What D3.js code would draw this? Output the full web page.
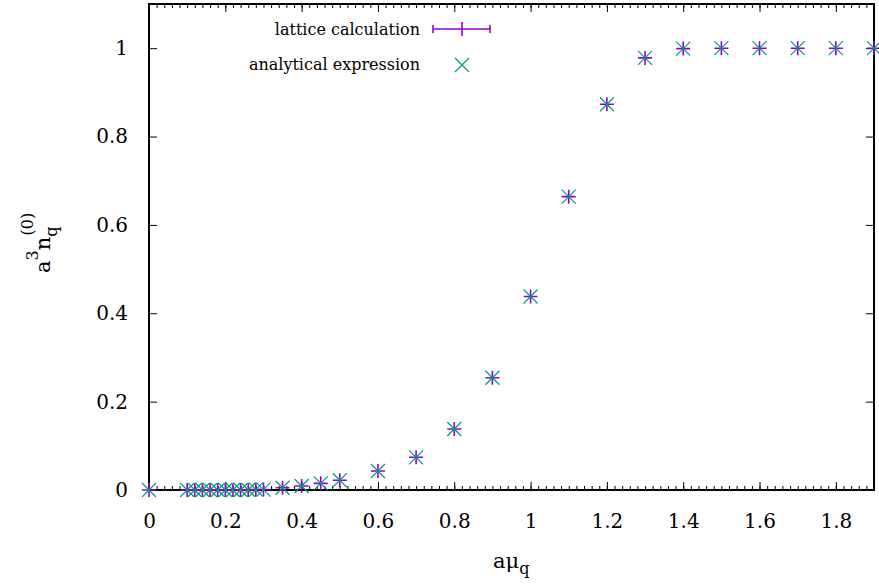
<!DOCTYPE html>
<html>
<head>
<meta charset="utf-8">
<script src="https://cdn.jsdelivr.net/npm/d3@7"></script>
<style>
  body { margin: 0; background: #fff; }
  svg text { fill: #000; }
</style>
</head>
<body>
<div id="chart-container"></div>
<script>
// data
const muValues = [0, 0.10, 0.12, 0.14, 0.16, 0.18, 0.20, 0.22, 0.24, 0.26, 0.28, 0.30,
  0.35, 0.40, 0.45, 0.50, 0.60, 0.70, 0.80, 0.90, 1.00, 1.10, 1.20, 1.30, 1.40, 1.50, 1.60, 1.70, 1.80, 1.90];
const latticeValues = [0, 0, 0, 0, 0, 0, 0, 0, 0, 0, 0.001, 0.001,
  0.005, 0.009, 0.015, 0.022, 0.043, 0.074, 0.138, 0.254, 0.438, 0.664, 0.873, 0.978, 0.999, 1, 1, 1, 1, 1];
const analyticValues = [0, 0, 0, 0, 0, 0, 0, 0, 0, 0, 0.001, 0.001,
  0.005, 0.009, 0.015, 0.022, 0.043, 0.074, 0.138, 0.254, 0.438, 0.664, 0.873, 0.978, 0.999, 1, 1, 1, 1, 1];
const xTicks = [0, 0.2, 0.4, 0.6, 0.8, 1, 1.2, 1.4, 1.6, 1.8];
const yTicks = [0, 0.2, 0.4, 0.6, 0.8, 1];
const seriesNames = ["lattice calculation", "analytical expression"];

const W = 879, H = 585;
const margin = { top: 4, right: 5, bottom: 95, left: 149 };
const width = W - margin.left - margin.right;
const height = H - margin.top - margin.bottom;

const purple = "#9400d3";
const green = "#009e73";
const serif = "'DejaVu Serif', serif";

const svg = d3.select("#chart-container").append("svg")
  .attr("width", W)
  .attr("height", H);

const g = svg.append("g")
  .attr("transform", `translate(${margin.left}, ${margin.top})`);

const x = d3.scaleLinear().domain([0, 1.9]).range([0, width]);
const y = d3.scaleLinear().domain([0, 1.1]).range([height, 0]);

// minor ticks every 0.02 on x
const minorX = d3.range(0, 96).map(i => +(i * 0.02).toFixed(2)).filter(v => v <= 1.9);

const tickText = a => a.attr("font-family", serif).selectAll("text")
  .style("font-family", serif)
  .style("font-size", "20px")
  .style("fill", "#000");

// bottom axis
g.append("g")
  .attr("transform", `translate(0, ${height})`)
  .call(d3.axisBottom(x).tickValues(xTicks).tickFormat(d3.format("")).tickSize(-8).tickPadding(24))
  .call(a => a.select(".domain").remove())
  .call(tickText);
g.append("g")
  .attr("transform", `translate(0, ${height})`)
  .call(d3.axisBottom(x).tickValues(minorX).tickFormat("").tickSize(-4))
  .call(a => a.select(".domain").remove());

// top axis (mirror)
g.append("g")
  .call(d3.axisTop(x).tickValues(xTicks).tickFormat("").tickSize(-8))
  .call(a => a.select(".domain").remove());
g.append("g")
  .call(d3.axisTop(x).tickValues(minorX).tickFormat("").tickSize(-4))
  .call(a => a.select(".domain").remove());

// left axis
g.append("g")
  .call(d3.axisLeft(y).tickValues(yTicks).tickFormat(d3.format("")).tickSize(-8).tickPadding(21))
  .call(a => a.select(".domain").remove())
  .call(tickText);

// right axis (mirror)
g.append("g")
  .attr("transform", `translate(${width}, 0)`)
  .call(d3.axisRight(y).tickValues(yTicks).tickFormat("").tickSize(-8))
  .call(a => a.select(".domain").remove());

g.selectAll(".tick line").attr("stroke", "#000").attr("stroke-width", 1);

// border
g.append("rect")
  .attr("width", width)
  .attr("height", height)
  .attr("fill", "none")
  .attr("stroke", "#000")
  .attr("stroke-width", 2);

// data points
const pts = muValues.map((m, i) => ({ x: m, lat: latticeValues[i], ana: analyticValues[i] }));
const s = 7;

const plot = g.append("g");
// lattice: plus marker
plot.selectAll(".lat")
  .data(pts)
  .join("path")
    .attr("class", "lat")
    .attr("d", d => {
      const px = x(d.x), py = y(d.lat);
      return `M${px - s},${py}H${px + s}M${px},${py - s}V${py + s}`;
    })
    .attr("stroke", purple)
    .attr("stroke-width", 1.6)
    .attr("fill", "none");

// analytical: cross
plot.selectAll(".ana")
  .data(pts)
  .join("path")
    .attr("class", "ana")
    .attr("d", d => {
      const px = x(d.x), py = y(d.ana);
      return `M${px - s},${py - s}L${px + s},${py + s}M${px - s},${py + s}L${px + s},${py - s}`;
    })
    .attr("stroke", green)
    .attr("stroke-width", 1.2)
    .attr("fill", "none");

// legend
const legend = svg.append("g");
legend.append("text")
  .attr("x", 420).attr("y", 35)
  .attr("text-anchor", "end")
  .style("font-family", serif)
  .style("font-size", "16px")
  .text(seriesNames[0]);
legend.append("path")
  .attr("d", "M433,29H490M433,25V33M490,25V33M462,22V36")
  .attr("stroke", purple)
  .attr("stroke-width", 1.6)
  .attr("fill", "none");
legend.append("text")
  .attr("x", 420).attr("y", 70)
  .attr("text-anchor", "end")
  .style("font-family", serif)
  .style("font-size", "16px")
  .text(seriesNames[1]);
legend.append("path")
  .attr("d", "M455,58L469,72M455,72L469,58")
  .attr("stroke", green)
  .attr("stroke-width", 1.2)
  .attr("fill", "none");

// axis titles
const xl = svg.append("text")
  .attr("x", 493).attr("y", 568)
  .style("font-family", serif)
  .style("font-size", "21px");
xl.append("tspan").text("aμ");
xl.append("tspan").style("font-size", "16px").attr("dy", 6).text("q");

const yl = svg.append("text")
  .attr("transform", "translate(50, 273) rotate(-90)")
  .style("font-family", serif)
  .style("font-size", "21px");
yl.append("tspan").text("a");
yl.append("tspan").style("font-size", "16px").attr("dy", -12).text("3");
yl.append("tspan").attr("dy", 12).text("n");
yl.append("tspan").style("font-size", "16px").attr("dy", 7).text("q");
yl.append("tspan").style("font-size", "16px").attr("dx", -9).attr("dy", -24).text("(0)");
</script>
</body>
</html>
